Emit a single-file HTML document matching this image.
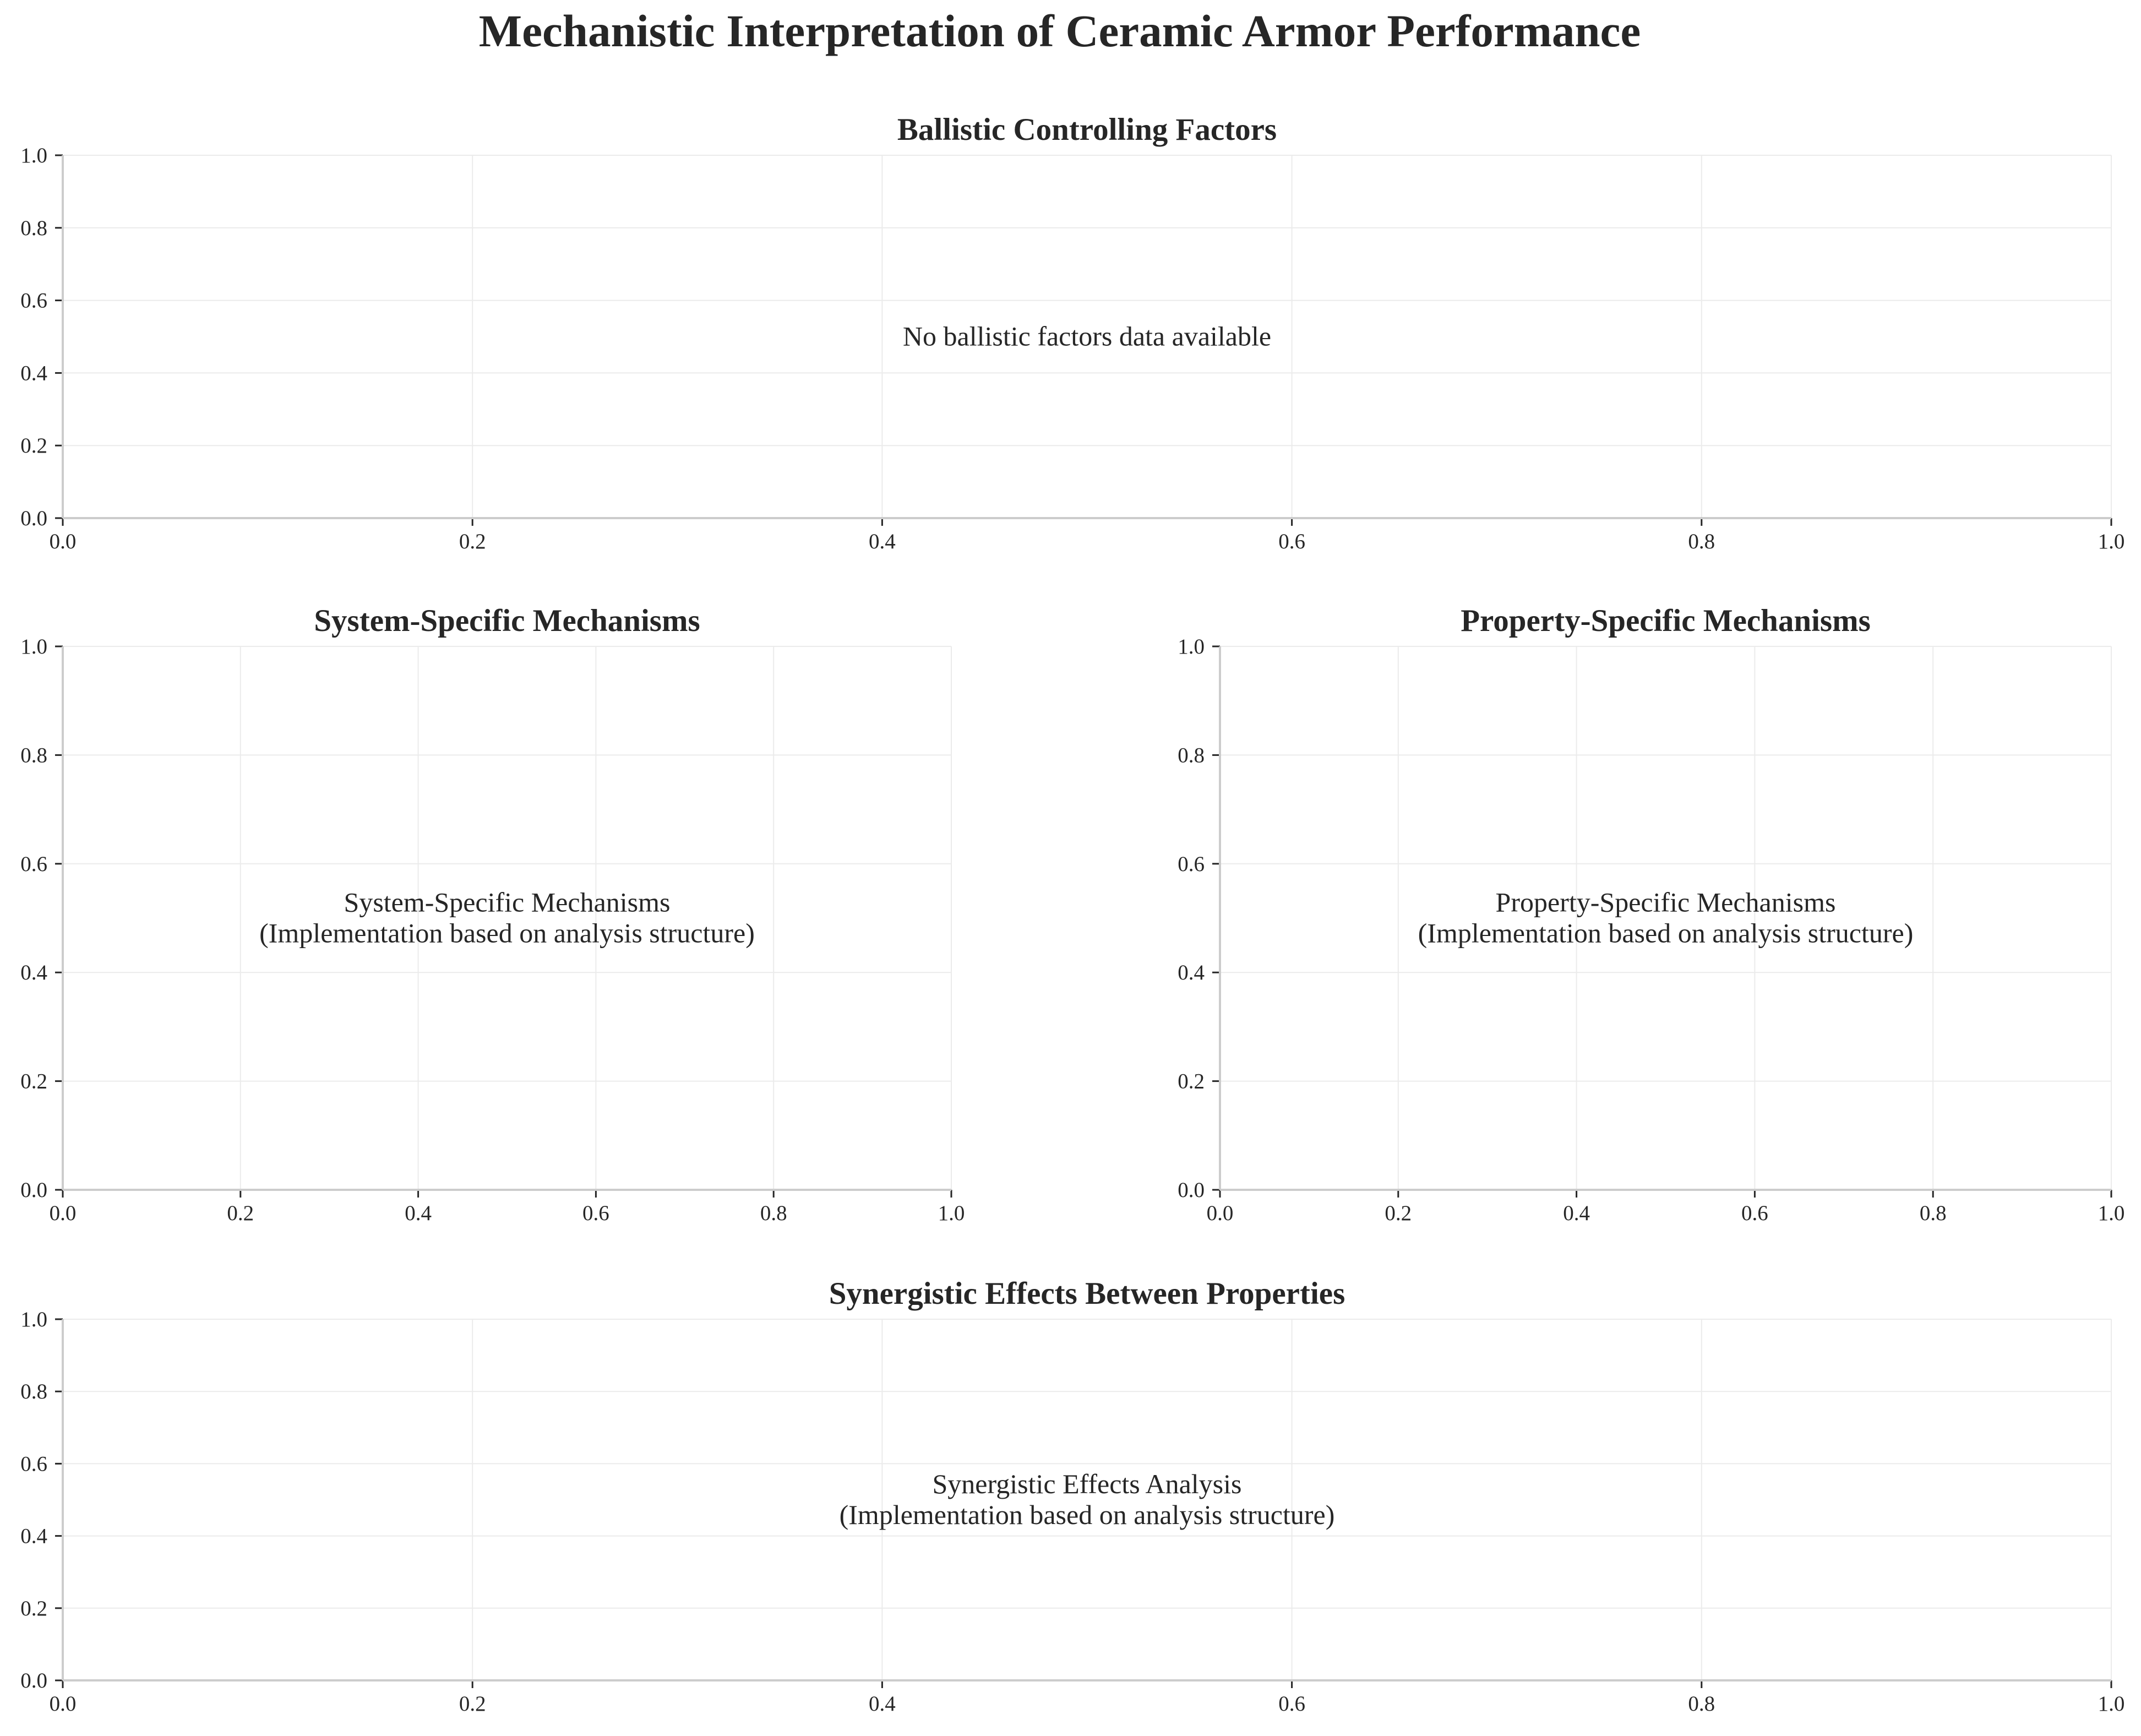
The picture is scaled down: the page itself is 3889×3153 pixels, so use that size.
<!DOCTYPE html>
<html><head><meta charset="utf-8"><style>
html,body{margin:0;padding:0;background:#fff;}
svg{display:block;font-family:"Liberation Serif",serif;}
</style></head><body>
<svg id="fig" width="3889" height="3153" viewBox="0 0 3889 3153" xmlns="http://www.w3.org/2000/svg">
<rect width="3889" height="3153" fill="#fff"/>
<text x="1925" y="84" text-anchor="middle" font-size="83" font-weight="bold" fill="#262626">Mechanistic Interpretation of Ceramic Armor Performance</text>
</svg>
<script>
const xTicks = [0, 0.2, 0.4, 0.6, 0.8, 1.0];
const yTicks = [0, 0.2, 0.4, 0.6, 0.8, 1.0];
const tickLabels = ["0.0", "0.2", "0.4", "0.6", "0.8", "1.0"];
const panelTitles = ["Ballistic Controlling Factors", "System-Specific Mechanisms", "Property-Specific Mechanisms", "Synergistic Effects Between Properties"];
const panelNotes = [["No ballistic factors data available"], ["System-Specific Mechanisms", "(Implementation based on analysis structure)"], ["Property-Specific Mechanisms", "(Implementation based on analysis structure)"], ["Synergistic Effects Analysis", "(Implementation based on analysis structure)"]];
const panelNames = ["ballistic-factors", "system-mechanisms", "property-mechanisms", "synergistic-effects"];

const boxes = [
  {l:114, r:3835, t:282, b:941},
  {l:114, r:1728, t:1174, b:2161},
  {l:2216, r:3835, t:1174, b:2161},
  {l:114, r:3835, t:2396, b:3052}
];
const NS = "http://www.w3.org/2000/svg";
const svg = document.getElementById('fig');
function mk(tag, attrs, parent){
  const e = document.createElementNS(NS, tag);
  for (const k in attrs) e.setAttribute(k, attrs[k]);
  (parent||svg).appendChild(e);
  return e;
}
boxes.forEach((bx, i) => {
  const g = mk('g', {});
  
  
  const sx = v => bx.l + v * (bx.r - bx.l);
  const sy = v => bx.b - v * (bx.b - bx.t);
  xTicks.forEach((v, k) => {
    const gl = mk('line', {x1:sx(v), x2:sx(v), y1:bx.t, y2:bx.b, stroke:'#ebebeb', 'stroke-width':2}, g);
    
    
    const tk = mk('line', {x1:sx(v), x2:sx(v), y1:bx.b, y2:bx.b + 14, stroke:'#262626', 'stroke-width':3}, g);
    
    
    const t = mk('text', {x:sx(v), y:bx.b + 55, 'text-anchor':'middle', 'font-size':39, fill:'#262626'}, g);
    t.textContent = tickLabels[k];
    
    
  });
  yTicks.forEach((v, k) => {
    const gl = mk('line', {x1:bx.l, x2:bx.r, y1:sy(v), y2:sy(v), stroke:'#ebebeb', 'stroke-width':2}, g);
    
    
    const tk = mk('line', {x1:bx.l - 14, x2:bx.l, y1:sy(v), y2:sy(v), stroke:'#262626', 'stroke-width':3}, g);
    
    
    const t = mk('text', {x:bx.l - 28, y:sy(v) + 13, 'text-anchor':'end', 'font-size':39, fill:'#262626'}, g);
    t.textContent = tickLabels[k];
    
    
  });
  const sp1 = mk('line', {x1:bx.l, x2:bx.l, y1:bx.t, y2:bx.b, stroke:'#cccccc', 'stroke-width':4}, g);
  
  
  const sp2 = mk('line', {x1:bx.l, x2:bx.r, y1:bx.b, y2:bx.b, stroke:'#cccccc', 'stroke-width':4}, g);
  
  
  const cx = (bx.l + bx.r) / 2;
  const title = mk('text', {x:cx, y:bx.t - 28, 'text-anchor':'middle', 'font-size':57, 'font-weight':'bold', fill:'#262626'}, g);
  title.textContent = panelTitles[i];
  
  
  const lines = panelNotes[i];
  const cy = (bx.t + bx.b) / 2;
  lines.forEach((s, j) => {
    const y = cy + 16 + (j - (lines.length - 1) / 2) * 56;
    const t = mk('text', {x:cx, y:y, 'text-anchor':'middle', 'font-size':50, fill:'#262626'}, g);
    t.textContent = s;
    
    
  });
});
</script>
</body></html>
